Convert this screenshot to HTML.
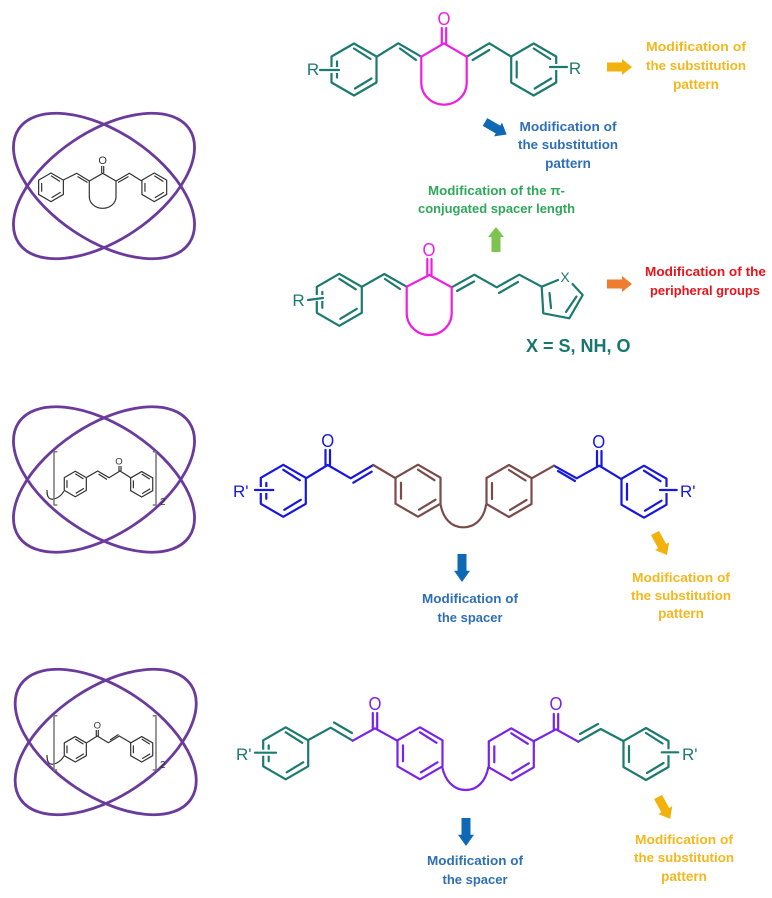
<!DOCTYPE html>
<html>
<head>
<meta charset="utf-8">
<style>
html,body{margin:0;padding:0;background:#fff;width:772px;height:898px;overflow:hidden}
svg{display:block}
text{font-family:"Liberation Sans",sans-serif}
.l{font-weight:bold;font-size:12.5px;text-anchor:middle}
.p{font-weight:bold;font-size:13.5px;text-anchor:middle}
.m{fill:none;stroke-linejoin:round;stroke-linecap:round;stroke-width:2.2}
.s{fill:none;stroke:#333;stroke-width:1.2;stroke-linejoin:round}
.e{fill:none;stroke:#6a3a9c;stroke-width:2.8}
.t{font-size:17px}
</style>
</head>
<body>
<svg width="772" height="898" viewBox="0 0 772 898" xmlns="http://www.w3.org/2000/svg">
<defs>
<g id="b"><path vector-effect="non-scaling-stroke" d="M0-26 22.5-13V13L0 26-22.5 13V-13Z M0-21 16.500-10.500 M1 19 17.500 9 M-17-8V8"/></g>
<path id="a" d="M0-4.500H15V-8L25 0 15 8V4.500H0Z"/>
</defs>

<!-- Orbitals -->
<g class="e">
<ellipse cx="104" cy="186" rx="102.600" ry="54.400" transform="rotate(33.700 104 186)"/>
<ellipse cx="104" cy="186" rx="102.600" ry="54.400" transform="rotate(-33.700 104 186)"/>
<ellipse cx="104" cy="479.500" rx="102.600" ry="54.400" transform="rotate(33.700 104 479.500)"/>
<ellipse cx="104" cy="479.500" rx="102.600" ry="54.400" transform="rotate(-33.700 104 479.500)"/>
<ellipse cx="105.700" cy="742" rx="102.600" ry="54.400" transform="rotate(33.700 105.700 742)"/>
<ellipse cx="105.700" cy="742" rx="102.600" ry="54.400" transform="rotate(-33.700 105.700 742)"/>
</g>

<!-- Small molecule 1 -->
<g class="s">
<use href="#b" transform="translate(51 187.300) scale(.55)"/>
<use href="#b" transform="translate(154.300 187.300) scale(.55)"/>
<path d="M63.300 180 76.700 173.300 89.300 181 102.700 173.300 116 181 129.300 173.300 141.700 181"/>
<path d="M77.500 176.500 87.500 182.500M118 182.500 128.500 176.500"/>
<path d="M89.300 181V196.700A13.350 11.600 0 0 0 116 196.700V181"/>
<path d="M101.700 173V166M103.700 173V166"/>
</g>
<text x="102.700" y="164" font-size="11" text-anchor="middle" fill="#333">O</text>

<!-- Small molecule 2 -->
<g class="s">
<use href="#b" transform="translate(75.300 484) scale(.49)"/>
<use href="#b" transform="translate(141.700 484.300) scale(.49)"/>
<path d="M86.700 477.300 97.700 471 109 477.700 120 471 130.700 477.700"/>
<path d="M98.500 474 107 479.500"/>
<path d="M119 471V466M121 471V466"/>
<path d="M64 491C60 498 52 501 49 498 47 496 47 493 47 490"/>
<path d="M57.300 451.700H54V505H57.300M152.700 451.700H156V505H152.700" style="stroke:#777;stroke-width:1.500"/>
</g>
<text x="119" y="464.500" font-size="9.500" text-anchor="middle" fill="#333">O</text>
<text x="160" y="505" font-size="10" fill="#333">2</text>

<!-- Small molecule 3 -->
<g class="s">
<use href="#b" transform="translate(75.300 749.300) scale(.49)"/>
<use href="#b" transform="translate(141.700 749.300) scale(.49)"/>
<path d="M86.700 742.700 97.300 736 108.300 742.700 119.300 736 130.700 742.700"/>
<path d="M110 740 118.500 734.500"/>
<path d="M96.300 736V730M98.300 736V730"/>
<path d="M64 756C60 763 52 766 49 763 47 761 47 758 47 755"/>
<path d="M57.300 715.700H54V770H57.300M152.700 715.700H156V770H152.700" style="stroke:#777;stroke-width:1.500"/>
</g>
<text x="97.300" y="728.500" font-size="9.500" text-anchor="middle" fill="#333">O</text>
<text x="160" y="768" font-size="10" fill="#333">2</text>

<!-- Top molecule -->
<g class="m" stroke="#1d7a70">
<use href="#b" transform="translate(354 69.500)"/>
<use href="#b" transform="translate(533.700 69.500)"/>
<path d="M376.700 56.700 398.300 43.300 421.300 56.700M400 48.500 416 60M466.700 56.700 489.300 43.300 511.300 56.700M472.700 60 489.300 50"/>
<path d="M327 70H339M550 67H562" style="stroke:#fff;stroke-width:6"/>
<path d="M320 70H339M550 67H567"/>
</g>
<g class="m" stroke="#f01ee0">
<path d="M421.300 56.700 444 43.300 466.700 56.700V82.700A22.700 22 0 0 1 421.300 82.700Z"/>
<path d="M441.800 43V28M446.200 43V28"/>
</g>
<text x="444" y="25" font-size="18" text-anchor="middle" fill="#f01ee0" textLength="13" lengthAdjust="spacingAndGlyphs">O</text>
<text x="313" y="75" class="t" text-anchor="middle" fill="#1d7a70">R</text>
<text x="575" y="74" class="t" text-anchor="middle" fill="#1d7a70">R</text>

<!-- Second molecule -->
<g class="m" stroke="#1d7a70">
<use href="#b" transform="translate(339.300 299.800)"/>
<path d="M314 298H326" style="stroke:#fff;stroke-width:6"/>
<path d="M308 300 323 298"/>
<path d="M362 286.700 384.300 274 406.700 286.700M385 279 400 289"/>
<path d="M451.700 287.300 474.300 274.700 496.700 287.300 519.300 274.700 541.700 286.700 558 280M457 291 474 281.500M499 293 518 282"/>
<path d="M541.700 286.700 543.300 313.300 569.300 318.300 582.700 295 572.500 284"/>
<path d="M549.500 293 551 308M566 312 576.500 296.500"/>
</g>
<g class="m" stroke="#f01ee0">
<path d="M406.700 286.700 429.300 275 451.700 287.300V313A22.500 22 0 0 1 406.700 313Z"/>
<path d="M427.300 275V259M431.500 275V259"/>
</g>
<text x="429" y="256" font-size="18" text-anchor="middle" fill="#f01ee0" textLength="13" lengthAdjust="spacingAndGlyphs">O</text>
<text x="298.500" y="306" class="t" text-anchor="middle" fill="#1d7a70">R</text>
<text x="565" y="282" font-size="14" text-anchor="middle" fill="#1d7a70">X</text>
<text x="526" y="352" font-size="18" font-weight="bold" fill="#17766e">X = S, NH, O</text>

<!-- Middle molecule -->
<g class="m" stroke="#1717dd">
<use href="#b" transform="translate(283.300 490.800)"/>
<use href="#b" transform="translate(644 491.700)"/>
<path d="M306 478.300 327.700 465 350.700 478.300 373.300 465M353.300 482.700 371.700 471.700"/>
<path d="M325.500 465V450M330 465V450"/>
<path d="M554 465.700 576.700 478.300 599.300 465.700 621.700 479.300M558 471 575 481"/>
<path d="M597 465.700V451M601.500 465.700V451"/>
<path d="M259 490H271M660 490H672" style="stroke:#fff;stroke-width:6"/>
<path d="M255 490H273.300M660 490H676.700"/>
</g>
<g class="m" stroke="#7a4b4b">
<path d="M373.300 465 395.700 478.300"/>
<use href="#b" transform="translate(418 490.700)"/>
<use href="#b" transform="translate(509 491)"/>
<path d="M440.700 505C443 518 451 527.300 463.300 527.300S484 518 486 505"/>
<path d="M531.700 478.300 554 465.700"/>
</g>
<text x="327.700" y="447" font-size="18" text-anchor="middle" fill="#1717dd" textLength="13" lengthAdjust="spacingAndGlyphs">O</text>
<text x="598.700" y="448" font-size="18" text-anchor="middle" fill="#1717dd" textLength="13" lengthAdjust="spacingAndGlyphs">O</text>
<text x="233" y="497" class="t" fill="#1717dd">R'</text>
<text x="680" y="497" class="t" fill="#1717dd">R'</text>

<!-- Bottom molecule -->
<g class="m" stroke="#1d7a70">
<use href="#b" transform="translate(285.700 753.300)"/>
<use href="#b" transform="translate(646 754)"/>
<path d="M308.300 740 330.700 727.700 352.700 740.700M334 722.500 352 733"/>
<path d="M578.300 741.700 600.700 729 623.300 741M580 734 598 724"/>
<path d="M261 752.700H273M661 752.300H672" style="stroke:#fff;stroke-width:6"/>
<path d="M255 752.700H276M661.700 752.300H678.300"/>
</g>
<g class="m" stroke="#7a22e8">
<path d="M352.700 740.700 375 728.300 397.300 740.700"/>
<path d="M372.800 728.300V713M377.200 728.300V713"/>
<use href="#b" transform="translate(420 753.300)"/>
<use href="#b" transform="translate(511.300 754.300)"/>
<path d="M442.300 767.300C445 780 453 790 465.700 790S486 780 488.300 767.300"/>
<path d="M534 741 556 729.300 578.300 741.700"/>
<path d="M553.800 729.300V714M558.200 729.300V714"/>
</g>
<text x="375" y="710" font-size="18" text-anchor="middle" fill="#7a22e8" textLength="13" lengthAdjust="spacingAndGlyphs">O</text>
<text x="556" y="710" font-size="18" text-anchor="middle" fill="#7a22e8" textLength="13" lengthAdjust="spacingAndGlyphs">O</text>
<text x="236" y="760" class="t" fill="#1d7a70">R'</text>
<text x="682" y="760" class="t" fill="#1d7a70">R'</text>

<!-- Block arrows -->
<use href="#a" fill="#f2b20e" transform="translate(607 67)"/>
<use href="#a" fill="#0f68b4" transform="translate(485 122) rotate(30)"/>
<use href="#a" fill="#7dc350" transform="translate(496 252) rotate(-90)"/>
<use href="#a" fill="#ed7d31" transform="translate(607 284)"/>
<use href="#a" fill="#0f68b4" transform="translate(462 554) rotate(90) scale(1.120 1)"/>
<use href="#a" fill="#f2b20e" transform="translate(655 533) rotate(61.600)"/>
<use href="#a" fill="#0f68b4" transform="translate(466 818) rotate(90) scale(1.120 1)"/>
<use href="#a" fill="#f2b20e" transform="translate(658 797) rotate(61)"/>

<!-- Labels -->
<g fill="#f4b81e">
<text class="l" x="696" y="51" textLength="100" lengthAdjust="spacingAndGlyphs">Modification of</text>
<text class="l" x="696" y="70" textLength="100" lengthAdjust="spacingAndGlyphs">the substitution</text>
<text class="p" x="696" y="89">pattern</text>
<text class="l" x="681" y="582" textLength="98" lengthAdjust="spacingAndGlyphs">Modification of</text>
<text class="l" x="681" y="600" textLength="100" lengthAdjust="spacingAndGlyphs">the substitution</text>
<text class="p" x="681" y="618">pattern</text>
<text class="l" x="684" y="844" textLength="98" lengthAdjust="spacingAndGlyphs">Modification of</text>
<text class="l" x="684" y="862" textLength="100" lengthAdjust="spacingAndGlyphs">the substitution</text>
<text class="p" x="684" y="881">pattern</text>
</g>
<g fill="#2e6fb5">
<text class="l" x="568" y="131" textLength="97" lengthAdjust="spacingAndGlyphs">Modification of</text>
<text class="l" x="568" y="149" textLength="100" lengthAdjust="spacingAndGlyphs">the substitution</text>
<text class="p" x="568" y="168">pattern</text>
<text class="l" x="470" y="603" textLength="96" lengthAdjust="spacingAndGlyphs">Modification of</text>
<text class="l" x="470" y="622" textLength="65" lengthAdjust="spacingAndGlyphs">the spacer</text>
<text class="l" x="475" y="865" textLength="96" lengthAdjust="spacingAndGlyphs">Modification of</text>
<text class="l" x="475" y="884" textLength="65" lengthAdjust="spacingAndGlyphs">the spacer</text>
</g>
<g fill="#2fa85a">
<text class="l" x="496.500" y="195" textLength="137" lengthAdjust="spacingAndGlyphs">Modification of the π-</text>
<text class="l" x="496.500" y="213" textLength="157" lengthAdjust="spacingAndGlyphs">conjugated spacer length</text>
</g>
<g fill="#e8141c">
<text class="l" x="705.500" y="276" textLength="121" lengthAdjust="spacingAndGlyphs">Modification of the</text>
<text class="l" x="705" y="295" textLength="110" lengthAdjust="spacingAndGlyphs">peripheral groups</text>
</g>
</svg>
</body>
</html>
